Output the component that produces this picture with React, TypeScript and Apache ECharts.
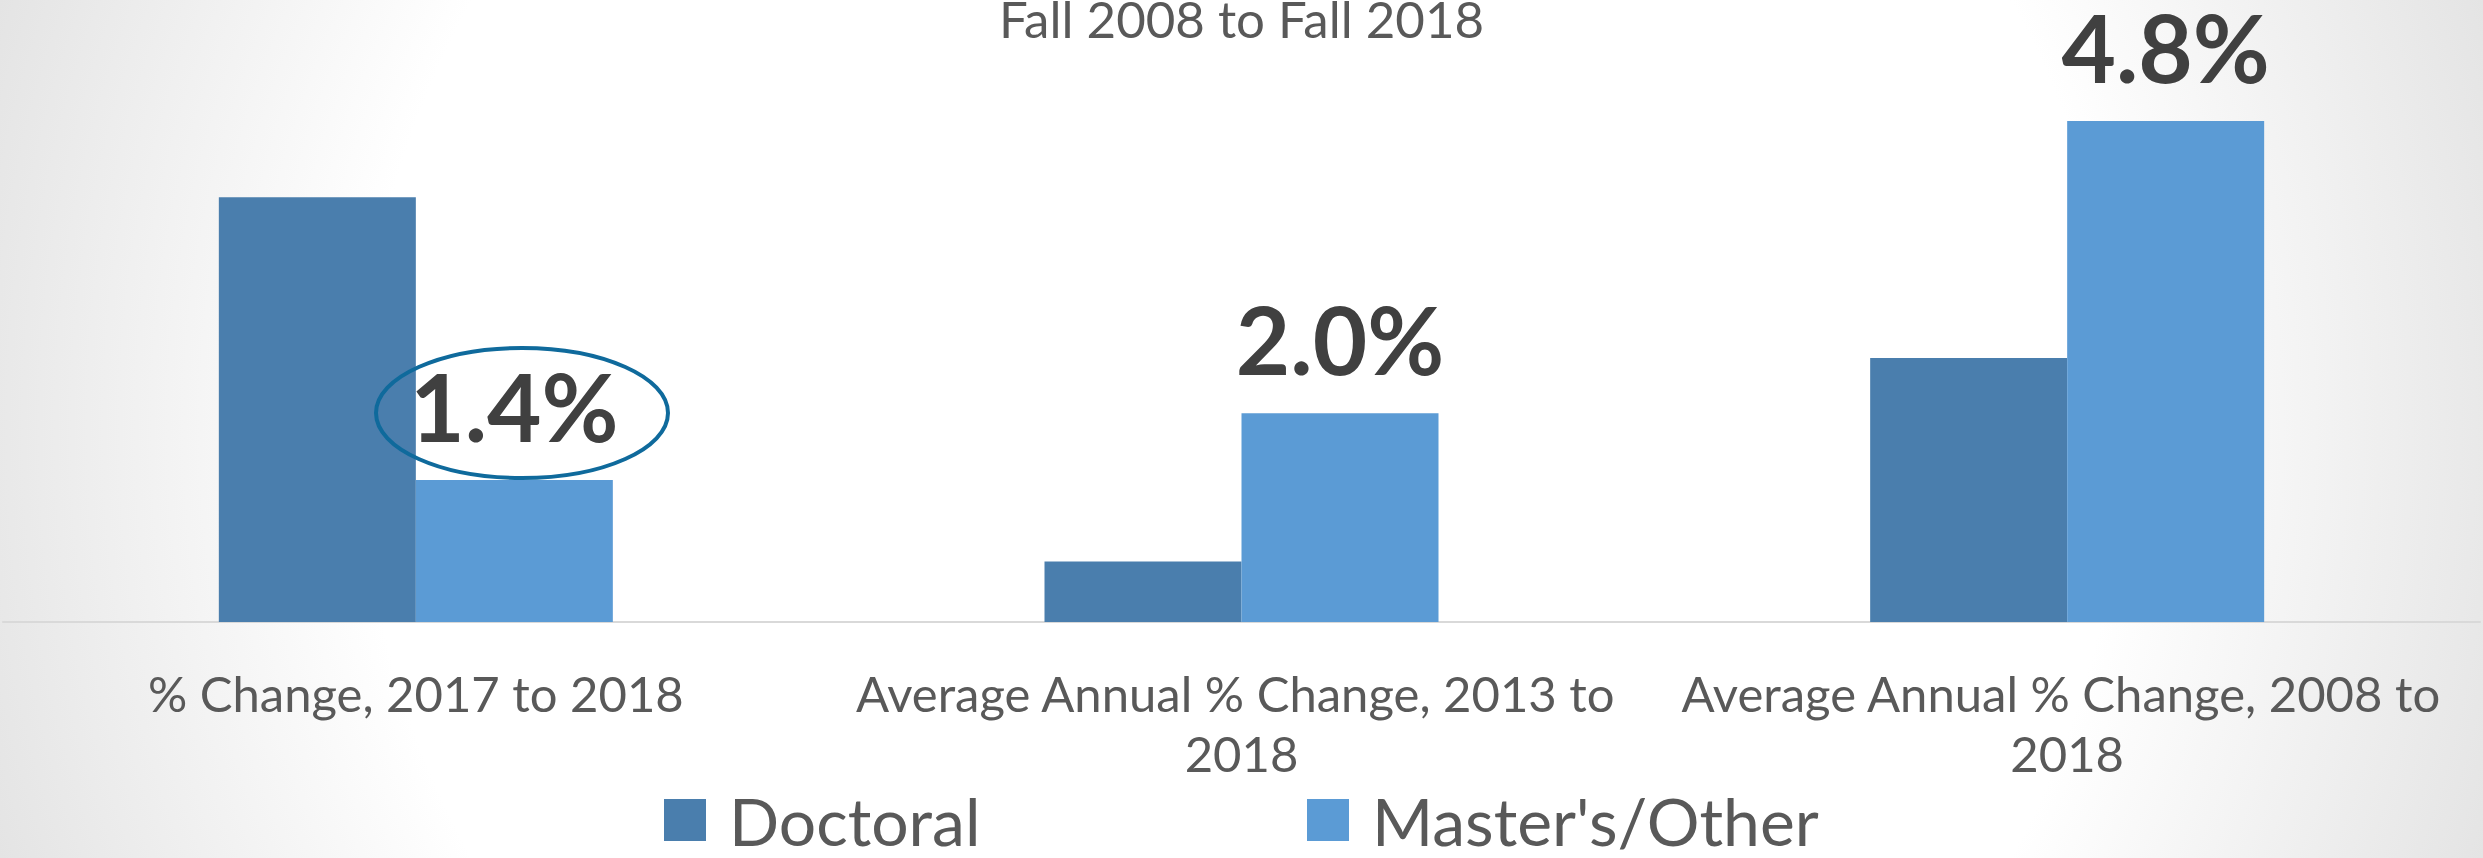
import React, { useEffect, useRef } from "react";
import * as echarts from "echarts";

const title = "Fall 2008 to Fall 2018";
const categories = [
  "% Change, 2017 to 2018",
  "Average Annual % Change, 2013 to 2018",
  "Average Annual % Change, 2008 to 2018",
];
const seriesNames = ["Doctoral", "Master's/Other"];
const doctoral = [4.07, 0.58, 2.53];
const masters = [1.36, 2.0, 4.8];

const FONT = "Lato, 'Open Sans', sans-serif";

export default function App() {
  const ref = useRef<HTMLDivElement>(null);
  useEffect(() => {
    document.body.style.margin = "0";
    const chart = echarts.init(ref.current!, undefined, { renderer: "svg" });
    const legendText = {
      fontFamily: FONT,
      fontSize: 66,
      lineHeight: 42,
      color: "#595959",
      padding: [0, 0, 14, 18],
    };
    chart.setOption({
      animation: false,
      backgroundColor: "transparent",
      textStyle: { fontFamily: FONT },
      title: {
        text: title,
        left: "center",
        top: 3,
        padding: 0,
        textStyle: {
          fontFamily: FONT,
          fontSize: 51,
          lineHeight: 30,
          fontWeight: "normal",
          color: "#595959",
        },
      },
      legend: [
        {
          data: [seriesNames[0]],
          left: 664,
          top: 787,
          padding: 0,
          icon: "rect",
          itemWidth: 42,
          itemHeight: 42,
          textStyle: legendText,
        },
        {
          data: [seriesNames[1]],
          left: 1307,
          top: 787,
          padding: 0,
          icon: "rect",
          itemWidth: 42,
          itemHeight: 42,
          textStyle: legendText,
        },
      ],
      grid: { left: 3, right: 3, top: 48, bottom: 236, containLabel: false },
      xAxis: {
        type: "category",
        data: categories,
        axisTick: { show: false },
        axisLine: { lineStyle: { color: "#d9d9d9", width: 2 } },
        axisLabel: {
          interval: 0,
          margin: 41,
          fontFamily: FONT,
          fontSize: 49,
          lineHeight: 60,
          color: "#595959",
          width: 790,
          overflow: "break",
        },
      },
      yAxis: {
        type: "value",
        min: 0,
        max: 5.5,
        show: false,
        splitLine: { show: false },
      },
      series: [
        {
          name: seriesNames[0],
          type: "bar",
          data: doctoral,
          barWidth: 197,
          barGap: "0%",
          itemStyle: { color: "#4A7EAD" },
        },
        {
          name: seriesNames[1],
          type: "bar",
          data: masters,
          barWidth: 197,
          barGap: "0%",
          itemStyle: { color: "#5B9BD5" },
          label: {
            show: true,
            position: "top",
            distance: 28,
            formatter: (p: any) => Number(p.value).toFixed(1) + "%",
            fontFamily: FONT,
            fontSize: 94,
            fontWeight: "bold",
            color: "#404040",
          },
        },
      ],
      graphic: [
        {
          type: "ellipse",
          z: 100,
          shape: { cx: 522, cy: 413, rx: 146, ry: 65 },
          style: { fill: "none", stroke: "#0F6A9C", lineWidth: 4 },
        },
      ],
    });
    return () => chart.dispose();
  }, []);
  return (
    <div
      ref={ref}
      style={{
        width: 2483,
        height: 858,
        background:
          "radial-gradient(circle 1330px at 50% 50%, #ffffff 0px, #ffffff 880px, #e3e3e3 1330px)",
      }}
    />
  );
}
